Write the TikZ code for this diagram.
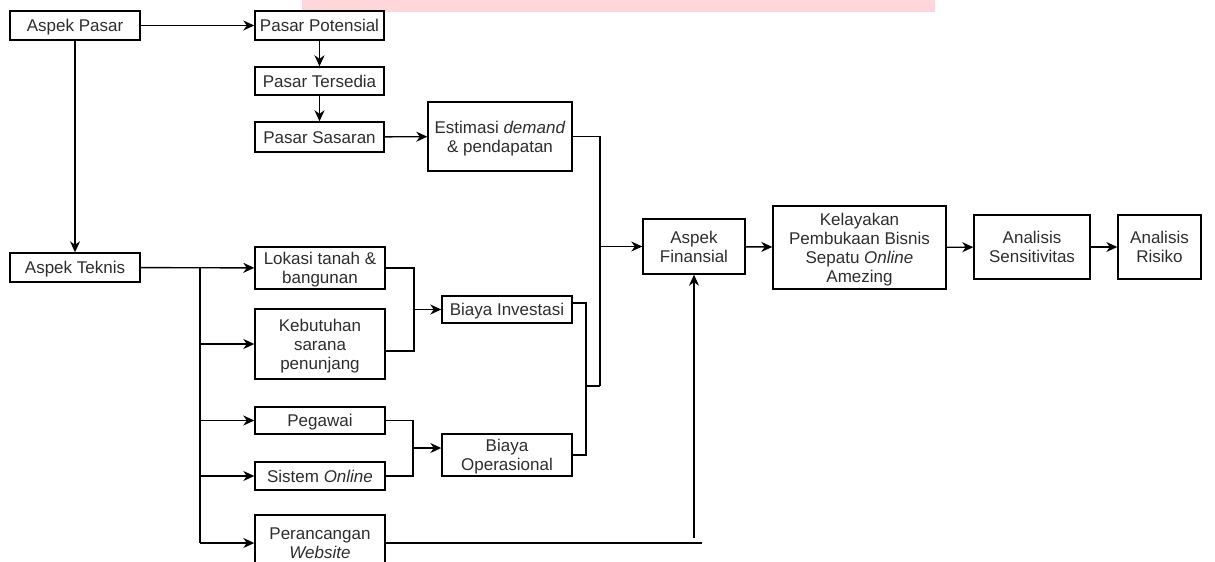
\documentclass[tikz,border=0pt]{standalone}
\usepackage{fontspec}
\setmainfont{Liberation Sans}
\usetikzlibrary{arrows.meta}
\definecolor{txt}{RGB}{45,45,45}
\definecolor{band}{RGB}{255,214,218}
% struts for the first and the last line of a box
\newcommand{\tp}{\rule{0pt}{0.96em}}
\newcommand{\bt}{\rule[-0.25em]{0pt}{0pt}}
\tikzset{% styles for the boxes and the arrows
    bx/.style={rectangle, draw=black, line width=1.4pt, align=center, inner sep=0pt,
      text=txt, font=\fontsize{17}{19}\selectfont},
    ar/.style={-{Stealth[length=11pt, width=10pt, inset=3.5pt]}, line width=1.4pt},
    ln/.style={line width=1.4pt}}

\begin{document}
\begin{tikzpicture}[x=1pt, y=-1pt]
  \clip (0,0) rectangle (1215,562);
  \fill[band] (302,0) rectangle (935,12);

  \node[bx, minimum width=130, minimum height=29] (pasar) at (75,25.5) {\tp Aspek Pasar\bt};
  \node[bx, minimum width=129, minimum height=29] (potensial) at (319.5,25.5) {\tp Pasar Potensial\bt};
  \node[bx, minimum width=129, minimum height=28] (tersedia) at (319.5,81) {\tp Pasar Tersedia\bt};
  \node[bx, minimum width=129, minimum height=30] (sasaran) at (319.5,137) {\tp Pasar Sasaran\bt};
  \node[bx, minimum width=144, minimum height=69] (estimasi) at (500,136.5) {\tp Estimasi \textit{demand}\\\& pendapatan\bt};

  \node[bx, minimum width=130, minimum height=29] (teknis) at (75,267.5) {\tp Aspek Teknis\bt};
  \node[bx, minimum width=130, minimum height=42] (lokasi) at (320,268) {\tp Lokasi tanah \&\\bangunan\bt};
  \node[bx, minimum width=130, minimum height=70] (kebutuhan) at (320,344) {\tp Kebutuhan\\sarana\\penunjang\bt};
  \node[bx, minimum width=130, minimum height=27] (pegawai) at (320,420.5) {\tp Pegawai\bt};
  \node[bx, minimum width=130, minimum height=28] (sistem) at (320,476) {\tp Sistem \textit{Online}\bt};
  \node[bx, minimum width=130, minimum height=56] (website) at (320,543) {\tp Perancangan\\\textit{Website}\bt};

  \node[bx, minimum width=130, minimum height=27] (investasi) at (507,309.5) {\tp Biaya Investasi\bt};
  \node[bx, minimum width=130, minimum height=42] (operasional) at (507,455) {\tp Biaya\\Operasional\bt};

  \node[bx, minimum width=102, minimum height=55] (finansial) at (694,246.5) {\tp Aspek\\Finansial\bt};
  \node[bx, minimum width=173, minimum height=83] (kelayakan) at (859.5,247.5) {\tp Kelayakan\\Pembukaan Bisnis\\Sepatu \textit{Online}\\Amezing\bt};
  \node[bx, minimum width=116, minimum height=64] (sensitivitas) at (1032,247) {\tp Analisis\\Sensitivitas\bt};
  \node[bx, minimum width=83, minimum height=64] (risiko) at (1159.5,247) {\tp Analisis\\Risiko\bt};

  \coordinate (bus) at (200,267.5);
  \coordinate (j1) at (414,309.5);
  \coordinate (j2) at (413,448);
  \coordinate (j3) at (586,386);
  \coordinate (j4) at (600,386);
  \coordinate (w1) at (702,543);
  \coordinate (w2) at (694,538);

  % market side
  \draw[ar] (pasar) -- (potensial);
  \draw[ar] (pasar) -- (teknis);
  \draw[ar] (potensial) -- (tersedia);
  \draw[ar] (tersedia) -- (sasaran);
  \draw[ar] (sasaran) -- (estimasi);

  % technical side
  \draw[ar] (teknis) -- (lokasi);
  \draw[ln] (bus) -- (bus |- website);
  \draw[ar] (bus |- kebutuhan) -- (kebutuhan);
  \draw[ar] (bus |- pegawai) -- (pegawai);
  \draw[ar] (bus |- sistem) -- (sistem);
  \draw[ar] (bus |- website) -- (website);

  \draw[ln] (lokasi.east) -| (j1);
  \draw[ln] ([yshift=-7pt]kebutuhan.east) -| (j1);
  \draw[ar] (j1) -- (investasi);
  \draw[ln] (pegawai.east) -| (j2);
  \draw[ln] (sistem.east) -| (j2);
  \draw[ar] (j2) -- (j2 -| operasional.west);

  % costs to finance
  \draw[ln] ([yshift=6.5pt]investasi.east) -| (j3);
  \draw[ln] (operasional.east) -| (j3);
  \draw[ln] (j3) -- (j4);
  \draw[ln] (estimasi.east) -| (j4);
  \draw[ar] (j4 |- finansial) -- (finansial);
  \draw[ln] (website.east) -- (w1);
  \draw[ar] (w2) -- (finansial);

  \draw[ar] (finansial) -- (kelayakan);
  \draw[ar] (kelayakan) -- (sensitivitas);
  \draw[ar] (sensitivitas) -- (risiko);
\end{tikzpicture}
\end{document}
